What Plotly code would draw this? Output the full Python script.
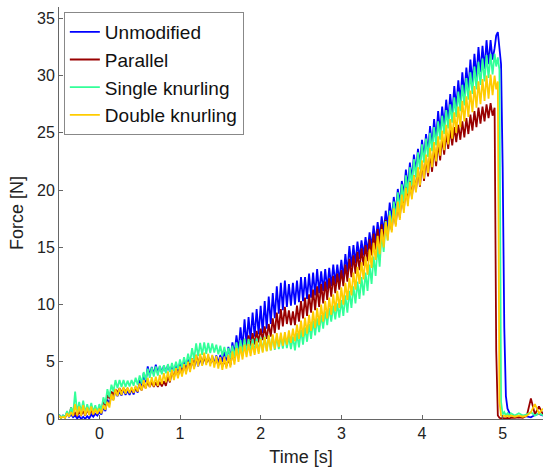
import numpy as np
import plotly.graph_objects as go

# ---- time grids [s] ----
# band part: the upper-envelope samples sit on env_time, lower ones half a step later
env_time = [round(v, 2) for v in np.arange(-0.50, 4.851, 0.05)]
half_step = 0.025
# final part (peak, drop to zero and tail)
tail_time = [4.90, 4.92, 4.94, 4.96, 4.98, 5.00, 5.02, 5.04, 5.06, 5.08, 5.10,
             5.15, 5.20, 5.25, 5.30, 5.35, 5.40, 5.45, 5.50]

# ---- Unmodified ----
unmod_upper = [
    0.40, 0.30, 0.50, 0.40, 0.30, 0.25, 0.20, 0.25, 0.40, 0.45,
    0.60, 1.00, 1.70, 2.10, 2.50, 2.40, 2.55, 2.45, 2.60, 2.80,
    3.40, 4.00, 4.60, 4.55, 4.75, 4.60, 4.65, 4.70, 4.65, 4.80,
    4.80, 5.05, 5.20, 5.25, 5.35, 5.30, 5.40, 5.45, 5.50, 5.55,
    5.60, 5.90, 6.30, 6.70, 7.30, 8.00, 8.70, 8.90, 9.30, 9.60,
    9.90, 10.30, 10.70, 11.00, 11.60, 11.90, 12.10, 11.80, 11.90, 12.10,
    12.40, 12.40, 12.70, 12.80, 13.10, 12.90, 13.10, 13.20, 13.50, 13.50,
    13.90, 14.40, 15.10, 15.20, 15.50, 15.60, 15.90, 16.30, 16.90, 17.20,
    17.70, 18.20, 18.90, 19.40, 20.10, 20.80, 21.80, 22.40, 23.10, 23.60,
    24.40, 24.90, 25.60, 26.20, 26.90, 27.30, 27.90, 28.40, 29.10, 29.60,
    30.30, 30.70, 31.40, 31.90, 32.50, 32.60, 33.10, 33.10,
]
unmod_lower = [
    0.10, 0.15, 0.20, 0.15, 0.05, 0.00, 0.02, 0.05, 0.20, 0.30,
    0.40, 0.70, 1.30, 1.70, 2.00, 2.05, 2.10, 2.10, 2.15, 2.30,
    2.70, 3.20, 3.80, 3.90, 4.00, 4.05, 4.10, 4.15, 4.20, 4.25,
    4.30, 4.40, 4.50, 4.55, 4.60, 4.75, 4.90, 4.85, 4.80, 4.90,
    5.00, 5.10, 5.30, 5.60, 6.00, 6.20, 6.50, 6.90, 7.20, 7.40,
    7.50, 7.90, 8.30, 8.80, 9.20, 9.50, 9.80, 9.90, 10.00, 10.20,
    10.30, 10.50, 10.60, 10.80, 11.00, 11.20, 11.30, 11.60, 11.80, 12.00,
    12.30, 12.80, 13.30, 13.60, 14.00, 14.30, 14.60, 15.00, 15.40, 15.80,
    16.30, 16.80, 17.40, 18.00, 18.80, 19.50, 20.30, 20.90, 21.60, 22.20,
    22.80, 23.30, 23.80, 24.40, 25.00, 25.50, 26.00, 26.60, 27.20, 27.70,
    28.30, 28.80, 29.30, 29.80, 30.30, 30.60, 31.00, 31.40,
]
unmod_tail = [32.40, 33.50, 33.80, 32.00, 31.00, 22.00, 8.00, 2.00, 0.90, 0.60, 0.30,
              0.25, 0.15, 0.30, 0.20, 0.15, 0.35, 0.45, 0.30]

# ---- Parallel ----
par_upper = [
    0.30, 0.25, 0.60, 1.00, 0.55, 0.60, 0.70, 0.80, 0.75, 0.85,
    1.10, 1.60, 2.10, 2.40, 2.60, 2.70, 2.70, 2.65, 2.60, 2.75,
    3.00, 3.20, 3.30, 3.25, 3.20, 3.25, 3.30, 3.70, 4.20, 4.40,
    4.50, 4.80, 5.00, 5.30, 5.60, 5.50, 5.50, 5.40, 5.30, 5.20,
    5.10, 5.10, 5.20, 5.70, 6.30, 6.70, 7.00, 7.30, 7.50, 7.70,
    7.90, 8.10, 8.30, 8.80, 9.30, 9.60, 9.80, 9.50, 9.40, 9.90,
    10.30, 10.60, 10.90, 11.30, 11.60, 11.80, 12.00, 12.30, 12.50, 12.70,
    13.00, 13.50, 14.00, 14.30, 14.60, 14.90, 15.20, 15.70, 16.20, 16.60,
    17.00, 17.40, 17.80, 18.40, 19.00, 19.60, 20.30, 20.80, 21.30, 21.90,
    22.50, 22.90, 23.30, 23.80, 24.20, 24.60, 25.00, 25.30, 25.50, 25.70,
    26.00, 26.30, 26.60, 26.90, 27.20, 27.30, 27.50, 27.60,
]
par_lower = [
    0.10, 0.12, 0.20, 0.30, 0.30, 0.35, 0.30, 0.40, 0.40, 0.50,
    0.60, 1.20, 1.80, 2.10, 2.30, 2.35, 2.40, 2.35, 2.30, 2.40,
    2.50, 2.70, 2.80, 2.80, 2.80, 2.85, 2.90, 3.20, 3.60, 3.75,
    3.90, 4.10, 4.30, 4.50, 4.80, 4.85, 4.90, 4.85, 4.80, 4.70,
    4.60, 4.60, 4.70, 5.10, 5.50, 5.80, 6.00, 6.30, 6.50, 6.70,
    6.90, 7.00, 7.20, 7.50, 7.80, 8.10, 8.30, 8.20, 8.20, 8.50,
    8.80, 9.00, 9.30, 9.50, 9.80, 10.10, 10.40, 10.70, 11.00, 11.30,
    11.60, 12.00, 12.40, 12.70, 13.00, 13.40, 13.80, 14.30, 14.80, 15.20,
    15.60, 16.00, 16.50, 17.00, 17.60, 18.30, 19.00, 19.40, 19.90, 20.30,
    20.80, 21.20, 21.60, 22.10, 22.60, 23.10, 23.60, 23.90, 24.20, 24.40,
    24.60, 24.90, 25.20, 25.50, 25.80, 26.00, 26.30, 26.50,
]
par_tail = [27.20, 6.00, 0.30, 0.10, 0.05, 0.10, 0.05, 0.10, 0.10, 0.05, 0.10,
            0.10, 0.15, 0.10, 0.30, 1.80, 0.40, 1.10, 0.40]

# ---- Single knurling ----
single_upper = [
    0.40, 0.30, 0.70, 1.00, 2.40, 1.50, 1.60, 1.30, 1.40, 1.20,
    1.30, 1.90, 2.60, 3.00, 3.40, 3.40, 3.40, 3.35, 3.40, 3.60,
    3.80, 4.10, 4.40, 4.50, 4.60, 4.65, 4.70, 4.80, 4.90, 5.00,
    5.20, 5.40, 5.70, 6.20, 6.60, 6.65, 6.70, 6.65, 6.60, 6.50,
    6.40, 6.30, 6.20, 6.40, 6.70, 6.90, 7.00, 7.00, 7.00, 7.05,
    7.10, 7.20, 7.30, 7.25, 7.20, 7.25, 7.30, 7.25, 7.20, 7.50,
    7.80, 8.00, 8.30, 8.60, 8.80, 9.10, 9.40, 9.70, 9.90, 10.10,
    10.40, 10.80, 11.20, 11.60, 12.00, 12.40, 12.80, 13.50, 14.20, 15.20,
    16.30, 17.30, 18.20, 19.00, 19.80, 20.50, 21.30, 22.00, 22.70, 23.30,
    24.00, 24.50, 25.00, 25.50, 26.00, 26.50, 27.00, 27.50, 28.10, 28.60,
    29.20, 29.80, 30.30, 30.80, 31.20, 31.50, 31.80, 31.90,
]
single_lower = [
    0.10, 0.15, 0.20, 0.40, 0.50, 0.60, 0.50, 0.60, 0.60, 0.60,
    0.70, 1.30, 1.90, 2.40, 2.70, 2.80, 2.80, 2.85, 2.90, 3.00,
    3.10, 3.40, 3.60, 3.70, 3.80, 3.90, 4.00, 4.10, 4.20, 4.35,
    4.50, 4.70, 4.90, 5.20, 5.50, 5.60, 5.70, 5.75, 5.80, 5.65,
    5.50, 5.40, 5.30, 5.40, 5.50, 5.65, 5.80, 5.80, 5.80, 5.85,
    5.90, 5.95, 6.00, 6.05, 6.10, 6.15, 6.20, 6.10, 6.00, 6.25,
    6.50, 6.75, 7.00, 7.30, 7.60, 7.90, 8.20, 8.50, 8.70, 8.85,
    9.00, 9.30, 9.70, 10.10, 10.50, 10.80, 11.20, 11.80, 12.50, 13.30,
    14.60, 15.60, 16.60, 17.40, 18.20, 19.00, 19.70, 20.40, 21.10, 21.80,
    22.40, 22.90, 23.40, 23.90, 24.40, 24.90, 25.40, 25.90, 26.40, 26.90,
    27.40, 27.90, 28.40, 28.80, 29.20, 29.50, 29.80, 30.10,
]
single_tail = [31.90, 30.80, 31.60, 30.50, 1.50, 0.40, 0.60, 0.30, 0.50, 0.30, 0.50,
               0.30, 0.50, 0.30, 0.40, 0.60, 0.30, 0.50, 0.30]

# ---- Double knurling ----
double_upper = [
    0.30, 0.20, 0.50, 0.60, 1.30, 1.10, 1.20, 1.00, 1.10, 0.90,
    0.90, 1.20, 1.50, 2.20, 2.60, 2.70, 2.80, 2.75, 2.80, 2.90,
    3.10, 3.40, 3.60, 3.65, 3.70, 3.85, 4.00, 4.15, 4.30, 4.45,
    4.60, 4.80, 5.00, 5.30, 5.60, 5.70, 5.80, 5.70, 5.60, 5.50,
    5.40, 5.45, 5.60, 5.90, 6.20, 6.35, 6.50, 6.55, 6.60, 6.80,
    7.00, 7.15, 7.30, 7.40, 7.50, 7.55, 7.60, 7.75, 7.90, 8.25,
    8.60, 8.85, 9.10, 9.40, 9.70, 10.00, 10.30, 10.60, 10.90, 11.20,
    11.50, 11.90, 12.30, 12.80, 13.30, 13.70, 14.20, 14.80, 15.40, 16.00,
    16.60, 17.20, 17.80, 18.40, 19.00, 19.60, 20.20, 20.70, 21.30, 22.00,
    22.60, 23.10, 23.70, 24.20, 24.70, 25.20, 25.70, 26.20, 26.80, 27.30,
    27.80, 28.20, 28.70, 29.10, 29.50, 29.70, 30.00, 30.10,
]
double_lower = [
    0.10, 0.10, 0.20, 0.25, 0.30, 0.30, 0.30, 0.35, 0.40, 0.45,
    0.50, 0.80, 1.00, 1.60, 2.00, 2.10, 2.20, 2.25, 2.30, 2.40,
    2.50, 2.65, 2.80, 2.85, 2.90, 3.05, 3.20, 3.30, 3.40, 3.55,
    3.70, 3.90, 4.10, 4.35, 4.60, 4.65, 4.70, 4.60, 4.50, 4.40,
    4.30, 4.40, 4.50, 4.75, 5.00, 5.20, 5.40, 5.50, 5.60, 5.70,
    5.80, 5.90, 6.00, 6.15, 6.30, 6.40, 6.50, 6.65, 6.80, 7.00,
    7.20, 7.45, 7.70, 7.95, 8.20, 8.50, 8.80, 9.10, 9.40, 9.70,
    10.00, 10.40, 10.80, 11.30, 11.80, 12.20, 12.60, 13.20, 13.90, 14.40,
    15.00, 15.60, 16.30, 16.80, 17.40, 18.00, 18.60, 19.20, 19.80, 20.40,
    21.00, 21.50, 22.00, 22.50, 23.00, 23.50, 24.00, 24.50, 25.00, 25.50,
    26.00, 26.40, 26.80, 27.20, 27.50, 27.80, 28.00, 28.30,
]
double_tail = [30.00, 28.80, 29.50, 1.50, 0.30, 0.20, 0.30, 0.20, 0.30, 0.20, 0.30,
               0.20, 0.30, 0.20, 0.30, 0.60, 1.30, 0.50, 0.90]

series_names = ["Unmodified", "Parallel", "Single knurling", "Double knurling"]
series_upper = [unmod_upper, par_upper, single_upper, double_upper]
series_lower = [unmod_lower, par_lower, single_lower, double_lower]
series_tail = [unmod_tail, par_tail, single_tail, double_tail]
series_colors = ["#0000ff", "#990000", "#33ff99", "#ffcc00"]

x_ticks = [0, 1, 2, 3, 4, 5]
y_ticks = [0, 5, 10, 15, 20, 25, 30, 35]

fig = go.Figure()
for name, up, lo, tl, col in zip(series_names, series_upper, series_lower,
                                 series_tail, series_colors):
    xs, ys = [], []
    # the noisy force signal alternates between the band's top and bottom
    for t, u, l in zip(env_time, up, lo):
        xs += [t, t + half_step]
        ys += [u, l]
    xs += tail_time
    ys += tl
    fig.add_trace(go.Scatter(x=xs, y=ys, mode="lines", name=name,
                             line=dict(color=col, width=1.8)))

font_family = "Liberation Sans, Arial, Helvetica, sans-serif"
fig.update_layout(
    width=544, height=470,
    margin=dict(l=59, r=1, t=7, b=51),
    paper_bgcolor="white", plot_bgcolor="white",
    font=dict(family=font_family, size=16, color="#222222"),
    showlegend=True,
    legend=dict(x=0.01, y=0.988, xanchor="left", yanchor="top",
                bgcolor="white", bordercolor="#888888", borderwidth=1,
                font=dict(size=19, color="#111111"), tracegroupgap=0),
    xaxis=dict(range=[-0.5, 5.5], tickvals=x_ticks, ticks="inside", ticklen=4,
               tickcolor="#666666", showline=True, linecolor="#666666",
               linewidth=1, showgrid=False, zeroline=False, mirror=False,
               title=dict(text="Time [s]", standoff=9, font=dict(size=18))),
    yaxis=dict(range=[0, 36], tickvals=y_ticks, ticks="inside", ticklen=4,
               tickcolor="#666666", showline=True, linecolor="#666666",
               linewidth=1, showgrid=False, zeroline=False, mirror=False,
               title=dict(text="Force [N]", standoff=8, font=dict(size=18))),
)

fig.write_html("out.html", config={"displayModeBar": False},
               post_script="document.body.style.margin='0';")
